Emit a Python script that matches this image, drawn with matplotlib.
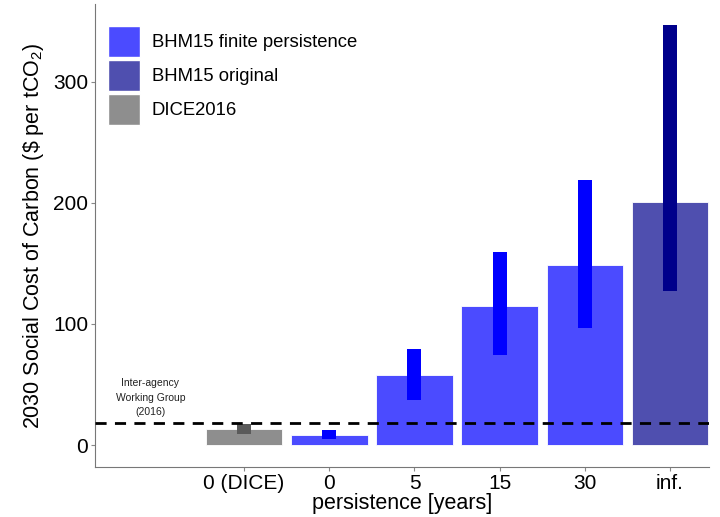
import matplotlib
matplotlib.use("Agg")
import matplotlib.pyplot as plt
from matplotlib.patches import Patch

plt.rcParams['font.family'] = ['Liberation Sans', 'DejaVu Sans']
plt.rcParams['mathtext.default'] = 'regular'

# values
categories = ["0 (DICE)", "0", "5", "15", "30", "inf."]
scc = [13, 8.5, 57.7, 114.6, 149, 201]
scc_low = [9, 5, 37, 74, 96.5, 127]
scc_high = [17, 12.4, 79, 159, 218.5, 346.5]
model = ["DICE2016", "BHM15 finite persistence", "BHM15 finite persistence",
         "BHM15 finite persistence", "BHM15 finite persistence", "BHM15 original"]
iwg_scc = 18

fill = {"BHM15 finite persistence": "#4b4bff",
        "BHM15 original": "#4f4faf",
        "DICE2016": "#8e8e8e"}
err = {"BHM15 finite persistence": "#0000ff",
       "BHM15 original": "#00008b",
       "DICE2016": "#5a5a5a"}

fig = plt.figure(figsize=(7.2, 5.17), dpi=100)
ax = fig.add_axes([0.132, 0.097, 0.853, 0.895])

x = list(range(1, len(categories) + 1))
ax.bar(x, scc, width=0.9, color=[fill[m] for m in model],
       edgecolor="white", linewidth=0.6, zorder=2)
heights = [h - l for h, l in zip(scc_high, scc_low)]
ax.bar(x, heights, bottom=scc_low, width=0.165,
       color=[err[m] for m in model], zorder=3)

ax.axhline(iwg_scc, color="black", linestyle=(0, (4, 3)), linewidth=2, zorder=4)
ax.text(-0.1, 39, "Inter-agency\nWorking Group\n(2016)", ha="center", va="center",
        fontsize=7.5, linespacing=1.55, color="#222222")

ax.set_xlim(-0.75, 6.46)
ax.set_ylim(-18, 364)
ax.set_xticks(x)
ax.set_xticklabels(categories, fontsize=15)
ax.set_yticks([0, 100, 200, 300])
ax.tick_params(axis="y", labelsize=15, color="#888888", length=3, pad=2)
ax.tick_params(axis="x", color="#888888", length=3, pad=2)
for s in ["top", "right"]:
    ax.spines[s].set_visible(False)
for s in ["left", "bottom"]:
    ax.spines[s].set_color("#777777")
ax.set_xlabel("persistence [years]", fontsize=15.5, labelpad=0)
ax.set_ylabel("2030 Social Cost of Carbon (\\$ per tCO$_2$)", fontsize=15.5, labelpad=5)

handles = [Patch(facecolor=fill[k], edgecolor="white", label=k) for k in fill]
ax.legend(handles=handles, loc="upper left", bbox_to_anchor=(0.021, 0.953),
          frameon=False, fontsize=13.3, handlelength=1.73, handleheight=2.2,
          handletextpad=0.65, labelspacing=0.17, borderpad=0, borderaxespad=0)

fig.savefig("out.png", dpi=100)
